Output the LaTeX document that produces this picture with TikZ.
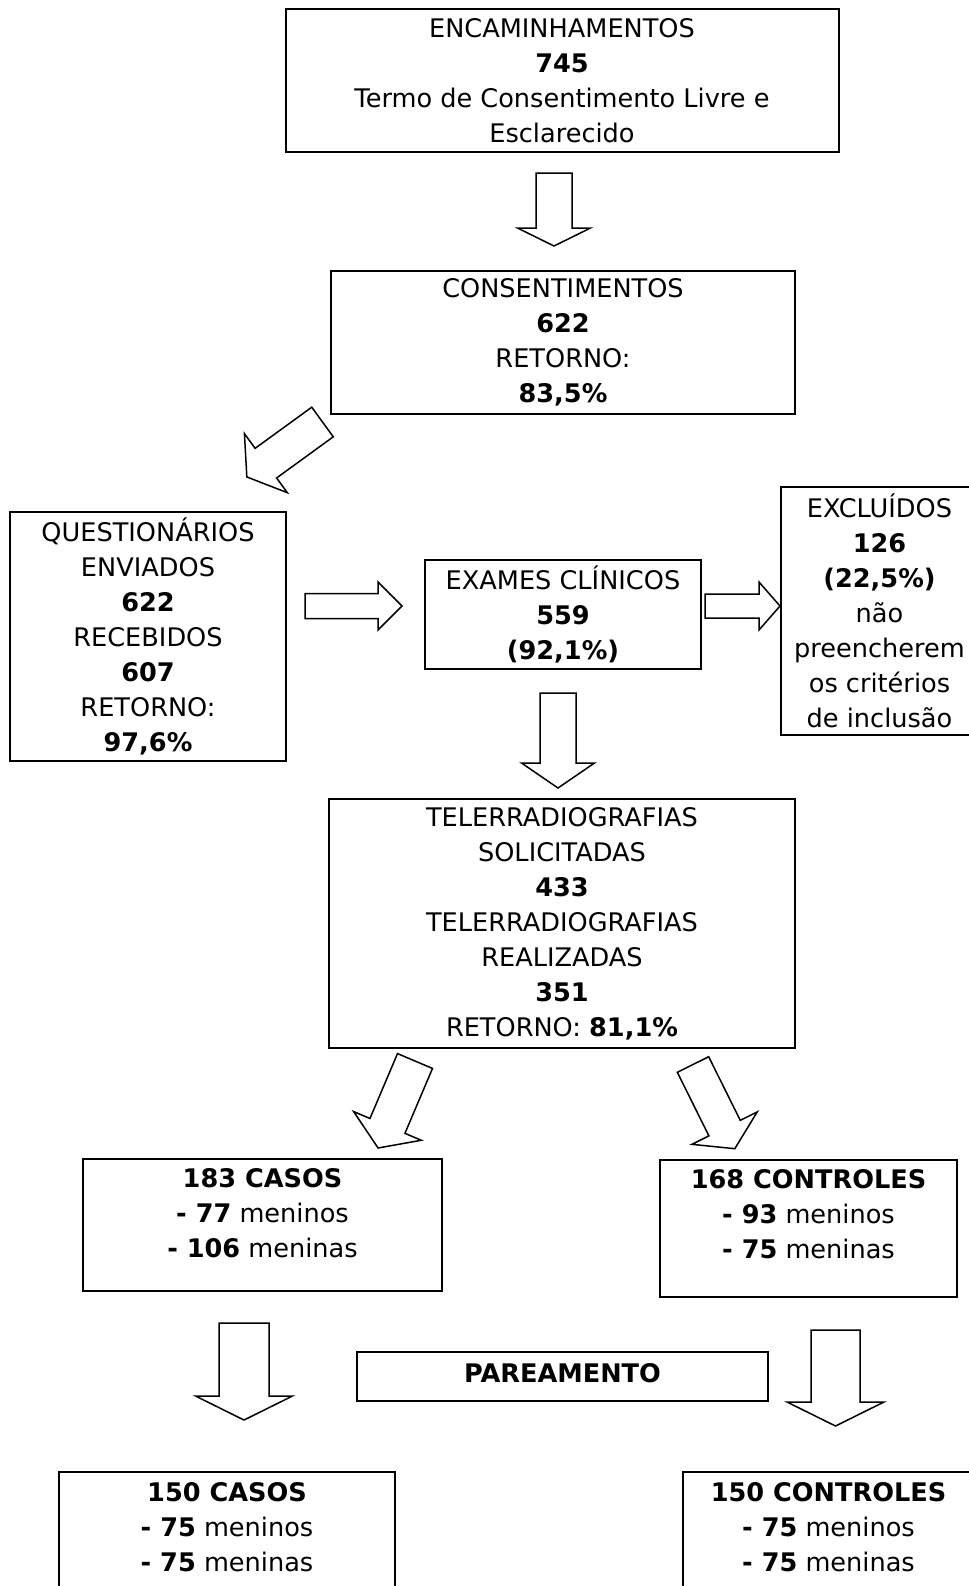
\documentclass[tikz,border=0pt]{standalone}
\usepackage{fontspec}
\setmainfont{DejaVu Sans}
\usetikzlibrary{positioning}

\tikzset{
  box/.style={draw, line width=1pt, align=center, inner sep=0pt,
    font=\fontsize{12.8}{17.5}\selectfont},
  sz/.style 2 args={minimum width=#1*0.5pt, minimum height=#2*0.5pt},
  barrow/.style={draw, line width=0.75pt, line join=miter},
}

% hollow block arrow: tail, angle, length, head length, shaft width, head width
\newcommand{\blockarrow}[6]{%
  \draw[barrow, shift={(#1)}, rotate=#2]
    (0,{#5/2}) -- ({#3-#4},{#5/2}) -- ({#3-#4},{#6/2}) -- (#3,0)
    -- ({#3-#4},{-#6/2}) -- ({#3-#4},{-#5/2}) -- (0,{-#5/2}) -- cycle;}

\begin{document}
\begin{tikzpicture}[x=0.5pt, y=-0.5pt]
  \useasboundingbox (0,0) rectangle (969,1586);
  \clip (0,0) rectangle (969,1586);

  \node[box, sz={553}{143}] (encam) at (562,80.5)
    {ENCAMINHAMENTOS\\ \textbf{745}\\ Termo de Consentimento Livre e\\ Esclarecido};
  \node[box, sz={464}{143}] (consent) at (563,342.5)
    {CONSENTIMENTOS\\ \textbf{622}\\ RETORNO:\\ \textbf{83,5\%}};
  \node[box, sz={275.5}{249}] (quest) at (148,636.5)
    {QUESTIONÁRIOS\\ ENVIADOS\\ \textbf{622}\\ RECEBIDOS\\ \textbf{607}\\ RETORNO:\\ \textbf{97,6\%}};
  \node[box, sz={276}{109}] (exames) at (563,614.5)
    {EXAMES CLÍNICOS\\ \textbf{559}\\ \textbf{(92,1\%)}};
  \node[box, sz={197}{248}] (excl) at (879.5,611)
    {EXCLUÍDOS\\ \textbf{126}\\ \textbf{(22,5\%)}\\ não\\ preencherem\\ os critérios\\ de inclusão};
  \node[box, sz={466}{249}] (tele) at (562,923.5)
    {TELERRADIOGRAFIAS\\ SOLICITADAS\\ \textbf{433}\\ TELERRADIOGRAFIAS\\ REALIZADAS\\ \textbf{351}\\ RETORNO: \textbf{81,1\%}};
  \node[box, sz={359}{132}, text depth=12pt] (casosA) at (262.5,1225)
    {\textbf{183 CASOS}\\ \textbf{- 77} meninos\\ \textbf{- 106} meninas};
  \node[box, sz={297}{137}, text depth=14.5pt] (contrA) at (808.5,1228.5)
    {\textbf{168 CONTROLES}\\ \textbf{- 93} meninos\\ \textbf{- 75} meninas};
  \node[box, sz={411}{49}, text depth=4pt] (pare) at (562.5,1376.5)
    {\textbf{PAREAMENTO}};
  \node[box, sz={336}{140}, text depth=15pt] (casosB) at (227,1542)
    {\textbf{150 CASOS}\\ \textbf{- 75} meninos\\ \textbf{- 75} meninas};
  \node[box, sz={291}{140}, text depth=15pt] (contrB) at (828.5,1542)
    {\textbf{150 CONTROLES}\\ \textbf{- 75} meninos\\ \textbf{- 75} meninas};

  % arrow tails
  \coordinate (t1) at (554,173);
  \coordinate (t2) at (322.5,422);
  \coordinate (t3) at (305,606);
  \coordinate (t4) at (705,606);
  \coordinate (t5) at (558,693);
  \coordinate (t6) at (415,1061);
  \coordinate (t7) at (693,1064.5);
  \coordinate (t8) at (244,1323);
  \coordinate (t9) at (835.5,1330);

  \blockarrow{t1}{-90}{73}{18}{36}{73}
  \blockarrow{t2}{-144}{93.5}{23.5}{36.6}{73}
  \blockarrow{t3}{0}{97}{24}{25}{48}
  \blockarrow{t4}{0}{75}{21}{24}{48}
  \blockarrow{t5}{-90}{95}{25}{36}{73}
  \blockarrow{t6}{-113}{94.5}{24}{38}{73.5}
  \blockarrow{t7}{-63.6}{94}{23}{35}{73}
  \blockarrow{t8}{-90}{97}{24}{50}{97}
  \blockarrow{t9}{-90}{96}{24}{49}{97}
\end{tikzpicture}
\end{document}
